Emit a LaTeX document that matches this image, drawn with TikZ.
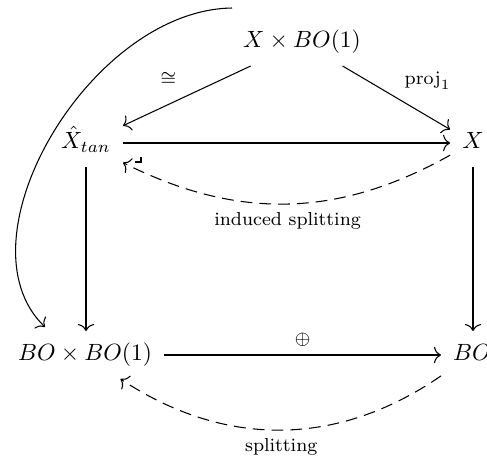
\documentclass[tikz,border=0pt]{standalone}
\usepackage{amsmath,amssymb}
\usetikzlibrary{arrows.meta}
\begin{document}
\begin{tikzpicture}[x=0.4255pt,y=-0.4255pt,
  >={Computer Modern Rightarrow[length=3pt,width=7pt]},
  obj/.style={inner sep=5pt, text height=7.5pt, text depth=2.5pt},
  arr/.style={->, line width=0.45pt},
  dsh/.style={->, line width=0.45pt, dash pattern=on 5pt off 3pt},
  lab/.style={font=\footnotesize}]
\useasboundingbox (0,0) rectangle (487,456);
\node[obj] (top) at (302,42) {$X\times BO(1)$};
\node[obj] (xt) at (86,143) {$\hat X_{tan}$};
\node[obj] (x) at (473,143) {$X$};
\node[obj] (bb) at (85,355) {$BO\times BO(1)$};
\node[obj] (bo) at (472,355) {$BO$};
\coordinate (s) at (232,8);
\draw[arr] (top) -- node[lab, above left=1pt] {$\cong$} (xt);
\draw[arr] (top) -- node[lab, above right] {$\mathrm{proj}_1$} (x);
\draw[arr] (xt) -- (x);
\draw[dsh] (x) to[bend left=28] node[lab, below] {induced splitting} (xt);
\draw[line width=0.45pt] (141,157) -- (141,162) -- (135,162);
\draw[arr] (xt) -- (xt|-bb.north);
\draw[arr] (x) -- (x|-bo.north);
\draw[arr] (bb) -- node[lab, above] {$\oplus$} (bo);
\draw[dsh] (bo) to[bend left=34] node[lab,below]{splitting} (bb);
\draw[arr] (s) .. controls (90,10) and (-45,240) .. ([shift={(-40,-4)}]bb.north);
\end{tikzpicture}
\end{document}
